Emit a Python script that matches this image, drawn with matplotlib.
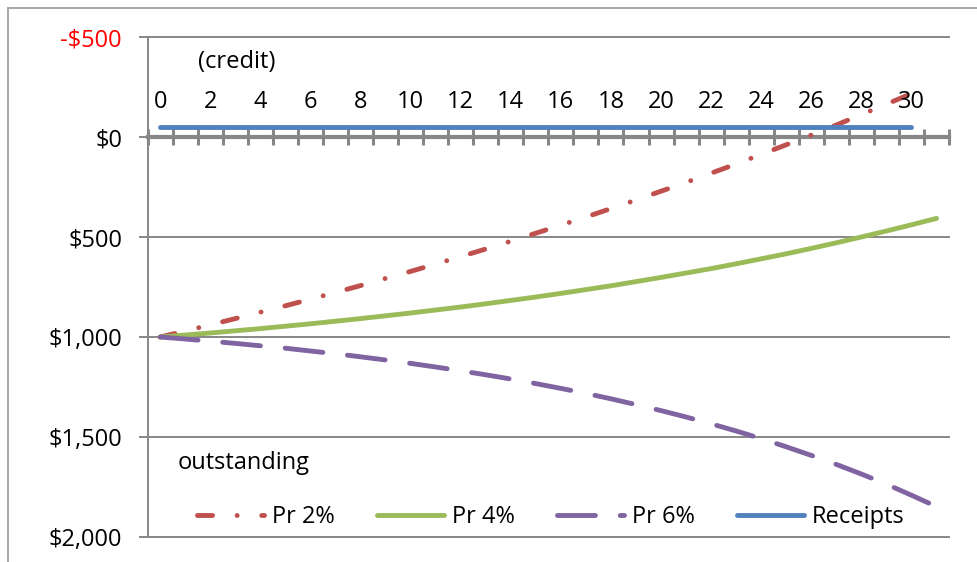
import numpy as np
import matplotlib
matplotlib.use("Agg")
import matplotlib.pyplot as plt
from matplotlib.lines import Line2D
from matplotlib.ticker import FuncFormatter

plt.rcParams['font.family'] = ['Open Sans', 'DejaVu Sans']

# periods, balance outstanding for three rates and the receipts line
periods = list(range(32))
pr2_periods = list(range(31))
pr2 = [1000, 970, 939, 908, 876, 844, 811, 777, 743, 707, 672, 635, 598, 560, 521, 481,
       441, 400, 358, 315, 271, 227, 181, 135, 87, 39, -10, -60, -112, -164, -217]
pr4 = [1000, 990, 980, 969, 958, 946, 934, 921, 908, 894, 880, 865, 850, 834, 817, 800,
       782, 763, 744, 723, 702, 680, 658, 634, 609, 584, 557, 529, 500, 470, 439, 407]
pr6 = [1000, 1010, 1021, 1032, 1044, 1056, 1070, 1084, 1099, 1115, 1132, 1150, 1169, 1189, 1210, 1233,
       1257, 1282, 1309, 1338, 1368, 1400, 1434, 1470, 1508, 1549, 1592, 1637, 1685, 1736, 1791, 1848]
receipts_periods = list(range(31))
receipts = [-50] * 31
xtick_labels = list(range(0, 31, 2))
yticks = [-500, 0, 500, 1000, 1500, 2000]

GRAY = '#878787'
FS = 17

fig = plt.figure(figsize=(9.77, 5.62), dpi=100)
ax = fig.add_axes([147.7 / 977, 1 - 537 / 562, (949 - 147.7) / 977, 500 / 562])

lw = 3.5
ax.plot(pr2_periods, pr2, color='#C0504D', lw=lw, linestyle=(0, (3.1, 5.05, 0.01, 5.05)),
        dash_capstyle='round', solid_capstyle='round', label='Pr 2%', zorder=3)
ax.plot(periods, pr4, color='#9BBB59', lw=lw, solid_capstyle='round', label='Pr 4%', zorder=3)
ax.plot(periods, pr6, color='#8064A2', lw=lw, linestyle=(0, (7.8, 5.1)),
        dash_capstyle='round', label='Pr 6%', zorder=3)
ax.plot(receipts_periods, receipts, color='#4F81BD', lw=lw, solid_capstyle='round',
        label='Receipts', zorder=3)

ax.set_xlim(-0.5, 31.5)
ax.set_ylim(2000, -500)

# y axis: dollar labels, gridlines
ax.set_yticks(yticks)
ax.yaxis.set_major_formatter(FuncFormatter(
    lambda v, p: ('-$' if v < 0 else '$') + f'{abs(int(v)):,}'))
ax.tick_params(axis='y', direction='out', length=6.5, width=1.4, color=GRAY,
               pad=12, labelsize=FS)
ax.get_yticklabels()[0].set_color('#FF0000')
ax.grid(axis='y', color=GRAY, lw=1.4, zorder=1)
for gl in ax.get_ygridlines():
    gl.set_clip_on(False)

# category axis crossing at zero, labels drawn above it
ax.spines['bottom'].set_position(('data', 0))
ax.spines['bottom'].set_color(GRAY)
ax.spines['bottom'].set_linewidth(3)
ax.spines['bottom'].set_zorder(2)
ax.set_xticks(np.arange(-0.5, 32, 1))
ax.set_xticklabels([])
ax.tick_params(axis='x', direction='inout', length=11, width=2.2, color=GRAY)
for t in xtick_labels:
    ax.annotate(str(t), xy=(t, 0), xytext=(0, 25), textcoords='offset points',
                ha='center', va='center', fontsize=FS)

ax.spines['top'].set_visible(False)
ax.spines['right'].set_visible(False)
ax.spines['left'].set_color(GRAY)
ax.spines['left'].set_linewidth(1.4)

ax.text(1.5, -375, '(credit)', fontsize=FS, ha='left', va='center')
ax.text(0.68, 1630, 'outstanding', fontsize=FS, ha='left', va='center')

ax.legend(loc='center left', bbox_to_anchor=(197 / 977, 1 - 517 / 562),
          bbox_transform=fig.transFigure, ncol=4, frameon=False, fontsize=FS,
          handlelength=2.85, handletextpad=0.33, columnspacing=1.78,
          borderpad=0, borderaxespad=0)

# chart border
fig.add_artist(Line2D([8 / 977, 1], [1 - 8 / 562] * 2, color='#a6a6a6', lw=1.4))
fig.add_artist(Line2D([8 / 977] * 2, [0, 1 - 8 / 562], color='#a6a6a6', lw=1.4))

fig.savefig('out.png', dpi=100)
